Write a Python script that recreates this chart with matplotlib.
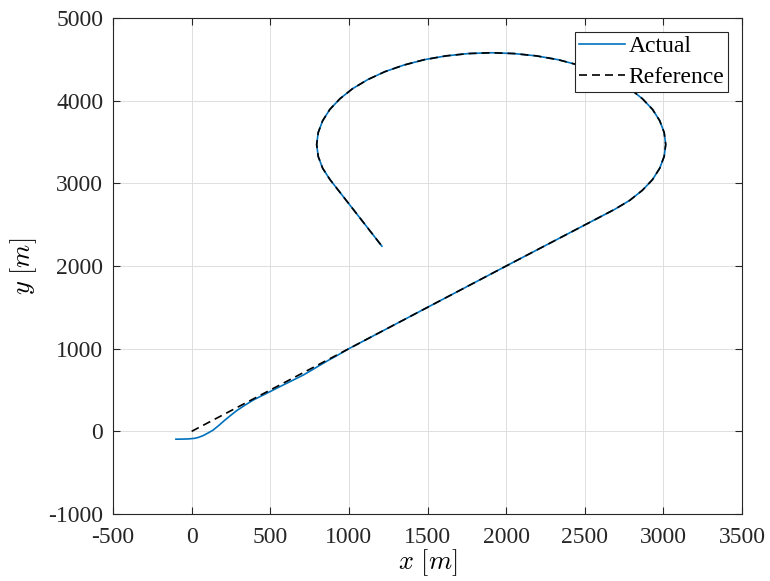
import matplotlib
matplotlib.use("Agg")
import matplotlib.pyplot as plt

# reference path
ref_x = [0, 1000, 2000, 2690, 2786, 2866, 2931, 2977, 3005, 3015, 3005, 2977, 2931,
         2866, 2786, 2690, 2581, 2460, 2330, 2192, 2050, 1905, 1760, 1618, 1480,
         1350, 1229, 1120, 1024, 944, 879, 833, 805, 795, 805, 833, 880, 1045, 1210]
ref_y = [0, 1000, 2000, 2685, 2794, 2915, 3045, 3183, 3325, 3470, 3615, 3757, 3895,
         4025, 4146, 4255, 4351, 4431, 4496, 4542, 4570, 4580, 4570, 4542, 4496,
         4431, 4351, 4255, 4146, 4025, 3895, 3757, 3615, 3470, 3325, 3183, 3045, 2643, 2240]

# actual path: start transient, then follows the reference
act_x0 = [-100, -40, -10, 20, 45, 75, 110, 137, 175, 212, 250, 286, 340, 392, 445,
          498, 551, 604, 657, 710, 763, 816, 870, 920]
act_y0 = [-95, -93, -90, -84, -72, -50, -14, 16, 75, 137, 196, 250, 318, 379, 430,
          480, 531, 581, 631, 681, 740, 800, 860, 912]
act_x = act_x0 + ref_x[1:]
act_y = act_y0 + ref_y[1:]

plt.rcParams['font.family'] = ['Liberation Serif', 'DejaVu Serif']
plt.rcParams['mathtext.fontset'] = 'cm'
plt.rcParams['axes.unicode_minus'] = False

fig = plt.figure(figsize=(7.7, 5.81), dpi=100)
ax = fig.add_axes([0.1468, 0.1153, 0.8168, 0.8537])

ax.plot(act_x, act_y, color='#0072BD', lw=1.2, label='Actual')
ax.plot(ref_x, ref_y, color='black', lw=1.2, linestyle=(0, (4.8, 3.0)), label='Reference')

ax.set_xlim(-500, 3500)
ax.set_ylim(-1000, 5000)
ax.set_xticks(range(-500, 3501, 500))
ax.set_yticks(range(-1000, 5001, 1000))
ax.grid(True, color='#dedede', lw=0.7)
ax.set_axisbelow(True)
ax.tick_params(direction='in', top=True, right=True, labelsize=17, length=5,
               width=0.8, colors='#262626', labelcolor='#262626')
ax.tick_params(axis='x', pad=9)
ax.tick_params(axis='y', pad=7)
for s in ax.spines.values():
    s.set_color('#262626')
    s.set_linewidth(0.8)

ax.set_xlabel(r'$x\ [m]$', fontsize=19, labelpad=0)
ax.set_ylabel(r'$y\ [m]$', fontsize=19, labelpad=7)

leg = ax.legend(loc='upper right', fontsize=17, fancybox=False, edgecolor='#262626',
                framealpha=1, borderaxespad=0.6, borderpad=0.15, labelspacing=0.4,
                handlelength=1.95, handletextpad=0.15)
leg.get_frame().set_linewidth(0.8)

fig.savefig('out.png', dpi=100)
